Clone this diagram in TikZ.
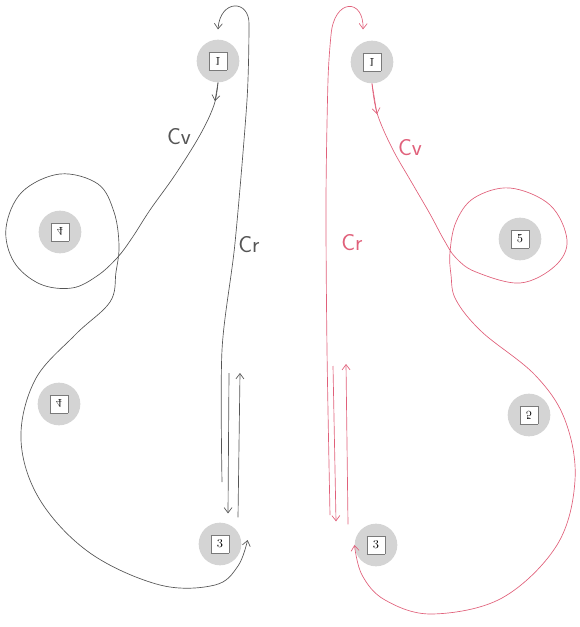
\documentclass[tikz,border=0pt]{standalone}
\usepackage{tikz}
\usetikzlibrary{arrows.meta, calc}
\definecolor{pencil}{HTML}{555555}
\definecolor{redpen}{HTML}{E0607A}
\definecolor{disc}{HTML}{D4D4D4}
\definecolor{boxline}{HTML}{7A7A7A}
\newcommand{\tagbox}[1]{{\setlength{\fboxsep}{0pt}\setlength{\fboxrule}{0.6pt}%
  \fcolorbox{boxline}{white}{\parbox[c][13pt][c]{13pt}{\centering\small #1}}}}
\newcommand{\flipv}[1]{\scalebox{1}[-1]{#1}}

\begin{document}
\begin{tikzpicture}[
    x=0.75pt, y=-0.75pt,
    every node/.style={font=\small},
    station/.style={circle, fill=disc, minimum size=32pt, inner sep=0pt},
    ink/.style={line width=0.5pt, color=pencil},
    rink/.style={line width=0.5pt, color=redpen},
    barb/.style={-{Straight Barb[length=4pt, width=6pt]}},
    hand/.style={font=\LARGE\sffamily, inner sep=0pt}
]
\useasboundingbox (0,0) rectangle (579,627);

% Left stations
\node[station] (l1)  at (218,61)  {\tagbox{\flipv{1}}};
\node[station] (l4a) at (60,232)  {\tagbox{\flipv{4}}};
\node[station] (l4b) at (59,404)  {\tagbox{\flipv{4}}};
\node[station] (l3)  at (220,544) {\tagbox{3}};

% Right stations
\node[station] (r1)  at (372,62)  {\tagbox{\flipv{1}}};
\node[station] (r5a) at (520,239) {\tagbox{5}};
\node[station] (r5b) at (529,415) {\tagbox{\flipv{5}}};
\node[station] (r3)  at (376,545) {\tagbox{3}};

% Free ends
\coordinate (lfoot) at (222,482);
\coordinate (ldown) at (229,373);
\coordinate (lup)   at (240,373);
\coordinate (rfoot) at (330,515);
\coordinate (rdown) at (333,366);
\coordinate (rup)   at (346,364);

% Left: Cv loop
\draw[ink, barb] (l1.south) -- (215,101);
\draw[ink, barb] plot[smooth, tension=0.6] coordinates {
    (l1.south) (214,105) (200,135) (175,175) (150,210) (132,238)
    (117,258) (97,276) (72,288) (40,284) (14,262) (6,228) (22,192)
    (60,174) (98,184) (114,212) (119,245) (116,272) (110,302)
    (75,335) (35,380) (21,440) (40,500) (90,553) (160,585) (215,585)
    (238,566) ($(l3.east)+(6,-4)$)};

% Left: Cr line
\draw[ink, barb] plot[smooth, tension=0.5] coordinates {
    (lfoot) (222,350) (235,243) (247,100) (249,25)}
    .. controls (250,-1) and (220,-1) .. ($(l1.north)+(0,-10)$);
\draw[ink, barb] (ldown) -- ($(l3.north)+(8,-9)$);
\draw[ink, barb] ($(l3.north)+(18,-5)$) -- (lup);

% Right: Cv loop
\draw[rink, barb] (r1.south) -- (377,114);
\draw[rink, barb] plot[smooth, tension=0.6] coordinates {
    (r1.south) (377,113) (392,148) (412,183) (430,214) (444,240)
    (456,258) (476,272) (520,283) (555,266) (567,240) (550,205)
    (510,188) (474,198) (456,222) (450,252) (451,275) (456,300)
    (482,332) (535,375) (565,420) (575,480) (557,545) (502,598)
    (432,614) (385,600) (362,575) (r3.west)};

% Right: Cr line
\draw[rink, barb] plot[smooth, tension=0.5] coordinates {
    (rfoot) (327,350) (326,200) (328,80) (331,35)}
    .. controls (334,-2) and (364,-2) .. ($(r1.north)+(-9,-11)$);
\draw[rink, barb] (rdown) -- ($(r3.north)+(-40,-2)$);
\draw[rink, barb] ($(r3.north)+(-28,1)$) -- (rup);

% Labels
\node[hand, pencil] (lcv) at (179,137) {Cv};
\node[hand, pencil] (lcr) at (249,245) {Cr};
\node[hand, redpen] (rcv) at (410,148) {Cv};
\node[hand, redpen] (rcr) at (352,243) {Cr};

\end{tikzpicture}
\end{document}
